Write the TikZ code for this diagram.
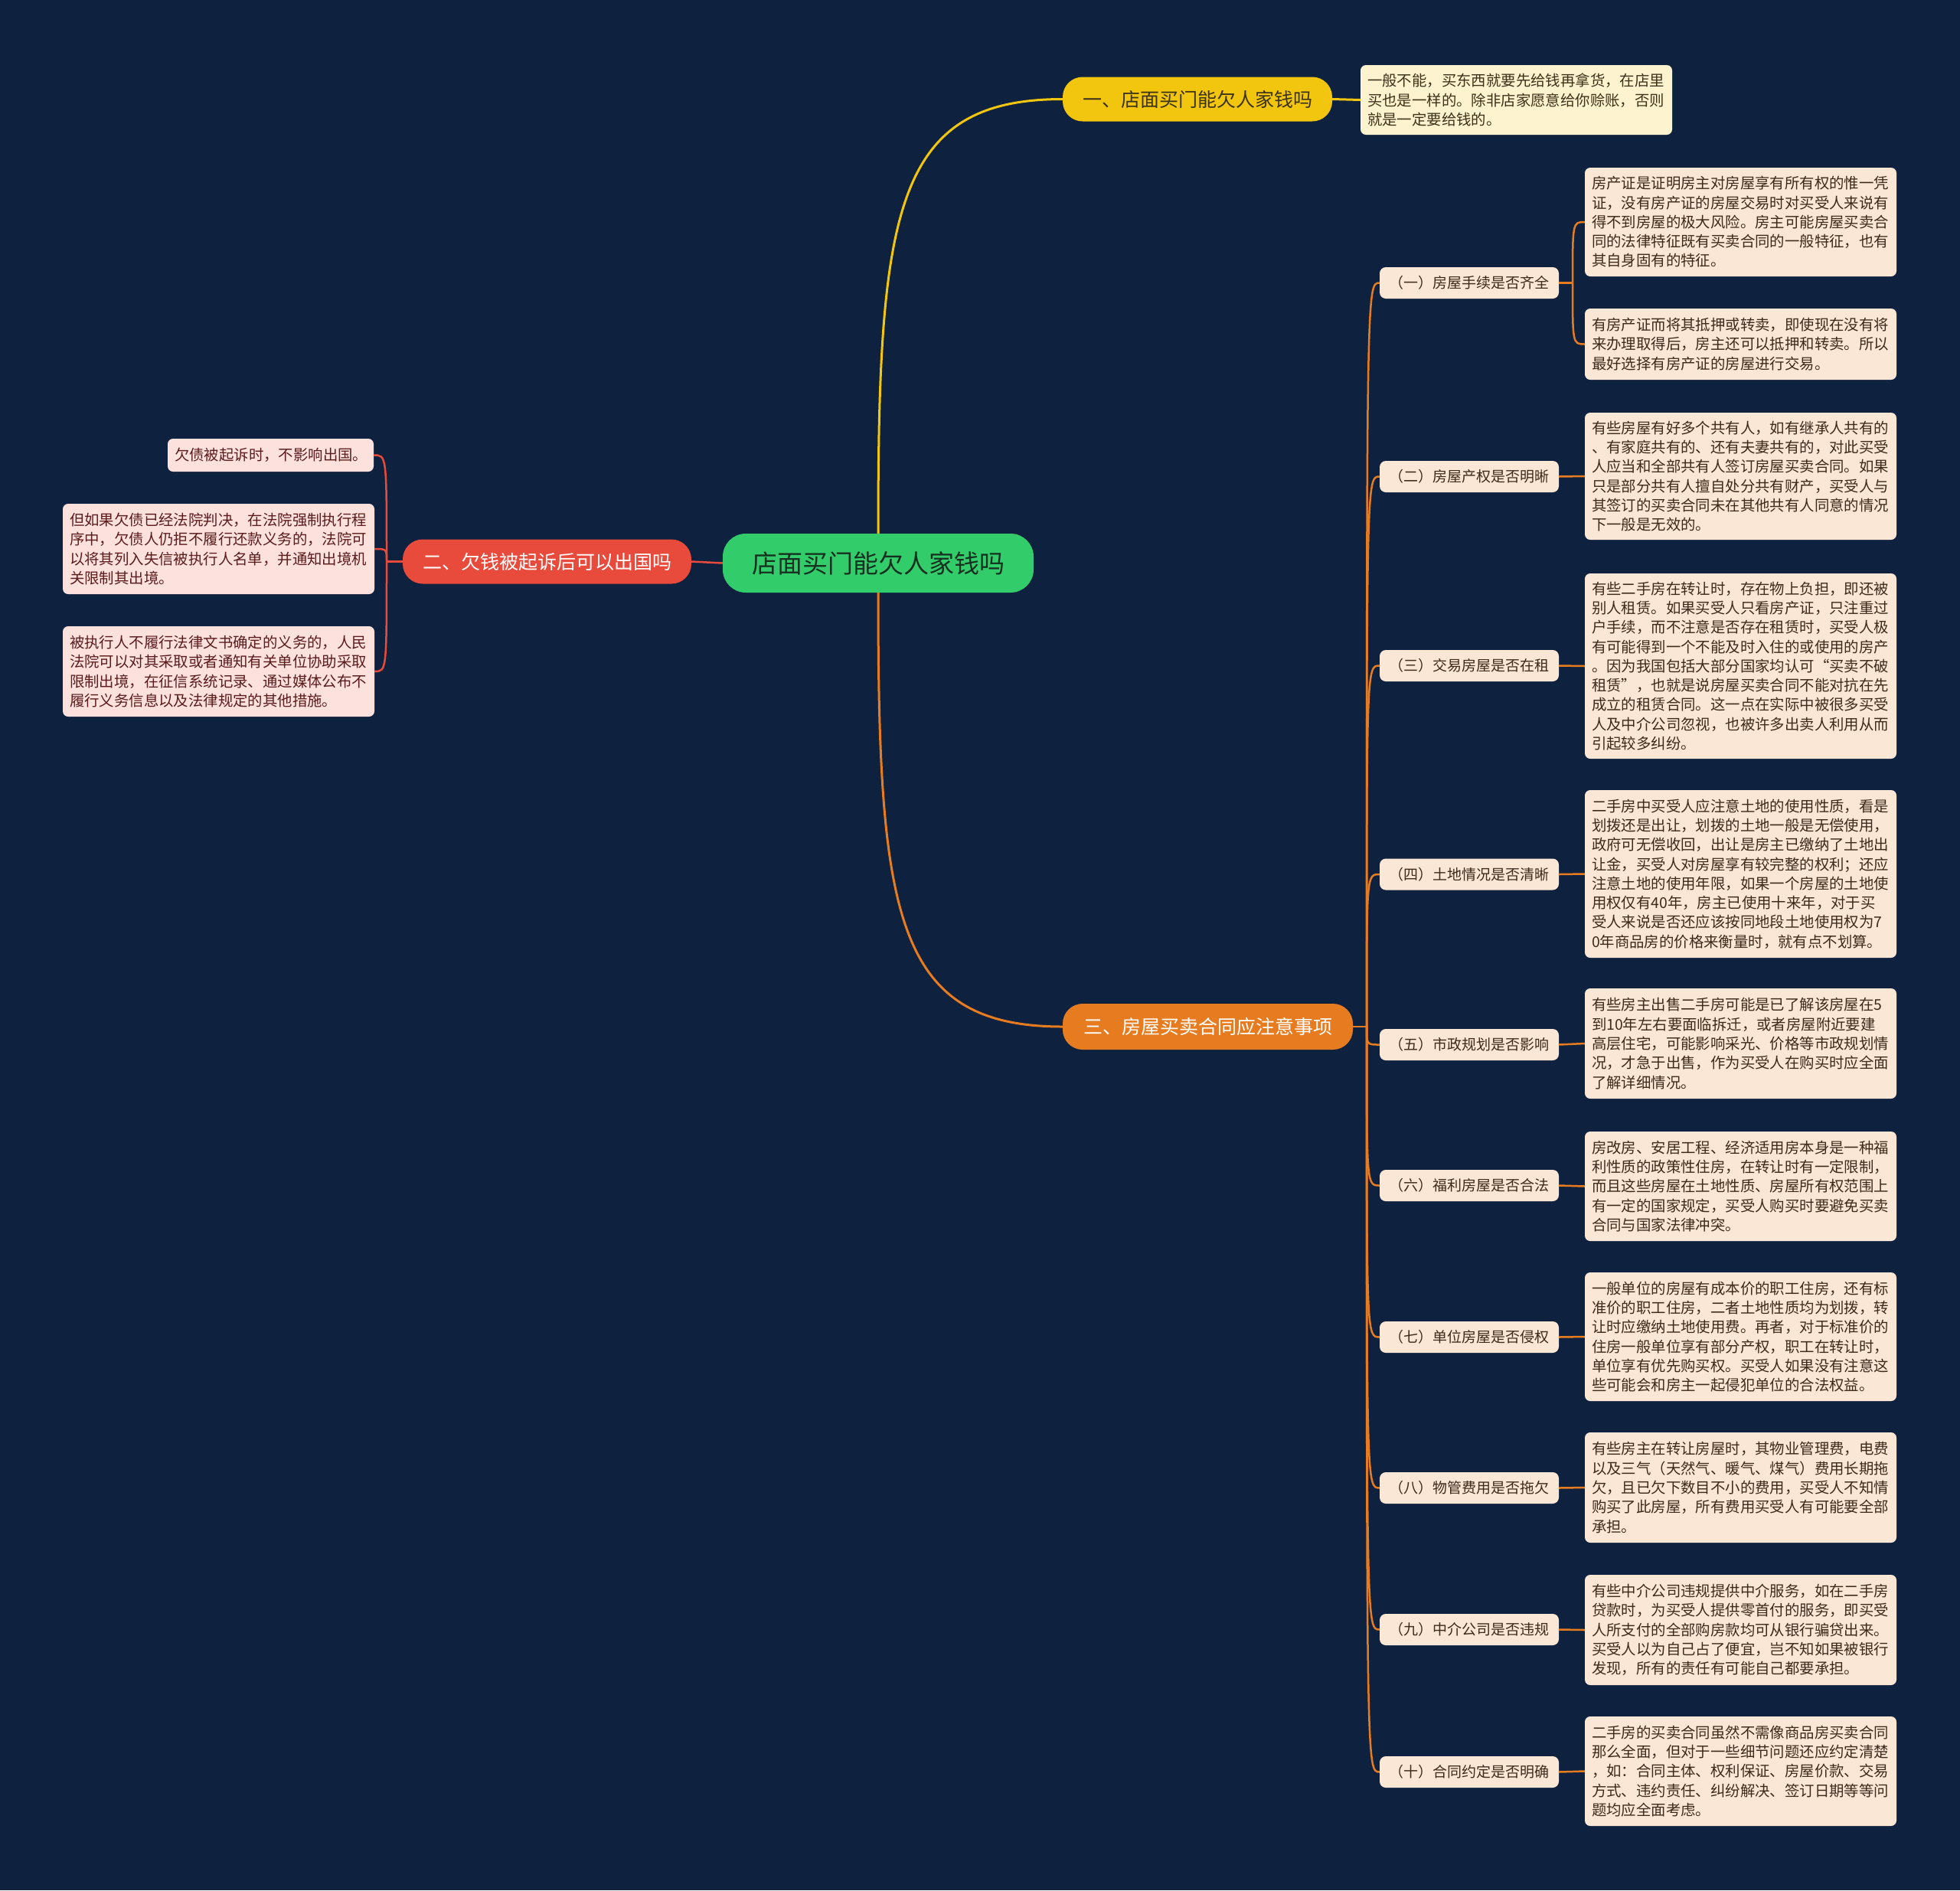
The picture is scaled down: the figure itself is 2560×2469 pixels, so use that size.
\documentclass[tikz,border=0pt]{standalone}
\usepackage{fontspec}
\setmainfont{Noto Sans CJK SC}
\definecolor{bg}{HTML}{0E213E}
\definecolor{cgreen}{HTML}{33CC6B}
\definecolor{cyellow}{HTML}{F2C60F}
\definecolor{cred}{HTML}{E84A3B}
\definecolor{corange}{HTML}{E67C1F}
\definecolor{lyellow}{HTML}{FDF3CF}
\definecolor{lred}{HTML}{FCE1DD}
\definecolor{lorange}{HTML}{FBE7D6}
\definecolor{tyellow}{HTML}{3B3218}
\definecolor{tred}{HTML}{5A1C1C}
\definecolor{torange}{HTML}{3E2A1A}
\definecolor{tcenter}{HTML}{15301F}
\tikzset{
  centernode/.style={fill=cgreen, rounded corners=30pt, minimum width=406pt, minimum height=77pt, inner sep=0pt, text=tcenter, font=\fontsize{33pt}{40pt}\selectfont},
  mainnode/.style={rounded corners=26pt, inner sep=0pt, minimum height=58pt, font=\fontsize{25pt}{30pt}\selectfont},
  subnode/.style={fill=lorange, rounded corners=8pt, minimum width=234pt, minimum height=41pt, inner sep=0pt, text=torange, font=\fontsize{19pt}{23pt}\selectfont},
  leafbox/.style={rounded corners=7pt, text width=389pt, inner xsep=9pt, inner ysep=0pt, align=left, font=\fontsize{19.4pt}{25.3pt}\selectfont},
  oleaf/.style={leafbox, fill=lorange, text=torange},
  rleaf/.style={leafbox, fill=lred, text=tred},
  yleaf/.style={leafbox, fill=lyellow, text=tyellow},
  yline/.style={draw=cyellow, line width=3pt},
  rline/.style={draw=cred, line width=2.5pt},
  oline/.style={draw=corange, line width=3pt},
  osub/.style={draw=corange, line width=2.5pt},
}
\begin{document}
\begin{tikzpicture}[x=1pt, y=-1pt]
\fill[bg] (0,0) rectangle (2560,2469);
\useasboundingbox (0,0) rectangle (2560,2469);

% central and main nodes
\node[centernode] (c) at (1147,735.5) {店面买门能欠人家钱吗};
\node[mainnode, fill=cyellow, minimum width=352pt, text=tyellow] (y) at (1564,129.5) {一、店面买门能欠人家钱吗};
\node[mainnode, fill=cred, minimum width=377pt, text=white] (r) at (714.5,733.5) {二、欠钱被起诉后可以出国吗};
\node[mainnode, fill=corange, minimum width=379pt, minimum height=60pt, text=white] (o) at (1577.5,1341) {三、房屋买卖合同应注意事项};

% yellow leaf
\node[yleaf, minimum height=91pt] (yl) at (1980.5,130.5) {一般不能，买东西就要先给钱再拿货，在店里\\买也是一样的。除非店家愿意给你赊账，否则\\就是一定要给钱的。};

% red leaves
\node[rleaf, text width=251pt, minimum height=43pt] (rl1) at (353.5,594.5) {欠债被起诉时，不影响出国。};
\node[rleaf, minimum height=118pt] (rl2) at (285.5,717) {但如果欠债已经法院判决，在法院强制执行程\\序中，欠债人仍拒不履行还款义务的，法院可\\以将其列入失信被执行人名单，并通知出境机\\关限制其出境。};
\node[rleaf, minimum height=118pt] (rl3) at (285.5,877) {被执行人不履行法律文书确定的义务的，人民\\法院可以对其采取或者通知有关单位协助采取\\限制出境，在征信系统记录、通过媒体公布不\\履行义务信息以及法律规定的其他措施。};

% sub nodes
\node[subnode] (s1) at (1919,369.5) {（一）房屋手续是否齐全};
\node[subnode] (s2) at (1919,622.5) {（二）房屋产权是否明晰};
\node[subnode] (s3) at (1919,869.5) {（三）交易房屋是否在租};
\node[subnode] (s4) at (1919,1142) {（四）土地情况是否清晰};
\node[subnode] (s5) at (1919,1364.5) {（五）市政规划是否影响};
\node[subnode] (s6) at (1919,1548.5) {（六）福利房屋是否合法};
\node[subnode] (s7) at (1919,1746.5) {（七）单位房屋是否侵权};
\node[subnode] (s8) at (1919,1943.5) {（八）物管费用是否拖欠};
\node[subnode] (s9) at (1919,2128.5) {（九）中介公司是否违规};
\node[subnode] (s10) at (1919,2314.5) {（十）合同约定是否明确};

% orange leaves
\node[oleaf, minimum height=142pt] (l1a) at (2273.5,290) {房产证是证明房主对房屋享有所有权的惟一凭\\证，没有房产证的房屋交易时对买受人来说有\\得不到房屋的极大风险。房主可能房屋买卖合\\同的法律特征既有买卖合同的一般特征，也有\\其自身固有的特征。};
\node[oleaf, minimum height=93pt] (l1b) at (2273.5,449.5) {有房产证而将其抵押或转卖，即使现在没有将\\来办理取得后，房主还可以抵押和转卖。所以\\最好选择有房产证的房屋进行交易。};
\node[oleaf, minimum height=166pt] (l2) at (2273.5,622) {有些房屋有好多个共有人，如有继承人共有的\\、有家庭共有的、还有夫妻共有的，对此买受\\人应当和全部共有人签订房屋买卖合同。如果\\只是部分共有人擅自处分共有财产，买受人与\\其签订的买卖合同未在其他共有人同意的情况\\下一般是无效的。};
\node[oleaf, minimum height=242pt] (l3) at (2273.5,870) {有些二手房在转让时，存在物上负担，即还被\\别人租赁。如果买受人只看房产证，只注重过\\户手续，而不注意是否存在租赁时，买受人极\\有可能得到一个不能及时入住的或使用的房产\\。因为我国包括大部分国家均认可“买卖不破\\租赁”，也就是说房屋买卖合同不能对抗在先\\成立的租赁合同。这一点在实际中被很多买受\\人及中介公司忽视，也被许多出卖人利用从而\\引起较多纠纷。};
\node[oleaf, minimum height=219pt] (l4) at (2273.5,1141.5) {二手房中买受人应注意土地的使用性质，看是\\划拨还是出让，划拨的土地一般是无偿使用，\\政府可无偿收回，出让是房主已缴纳了土地出\\让金，买受人对房屋享有较完整的权利；还应\\注意土地的使用年限，如果一个房屋的土地使\\用权仅有40年，房主已使用十来年，对于买\\受人来说是否还应该按同地段土地使用权为7\\0年商品房的价格来衡量时，就有点不划算。};
\node[oleaf, minimum height=144pt] (l5) at (2273.5,1363) {有些房主出售二手房可能是已了解该房屋在5\\到10年左右要面临拆迁，或者房屋附近要建\\高层住宅，可能影响采光、价格等市政规划情\\况，才急于出售，作为买受人在购买时应全面\\了解详细情况。};
\node[oleaf, minimum height=143pt] (l6) at (2273.5,1549.5) {房改房、安居工程、经济适用房本身是一种福\\利性质的政策性住房，在转让时有一定限制，\\而且这些房屋在土地性质、房屋所有权范围上\\有一定的国家规定，买受人购买时要避免买卖\\合同与国家法律冲突。};
\node[oleaf, minimum height=168pt] (l7) at (2273.5,1746) {一般单位的房屋有成本价的职工住房，还有标\\准价的职工住房，二者土地性质均为划拨，转\\让时应缴纳土地使用费。再者，对于标准价的\\住房一般单位享有部分产权，职工在转让时，\\单位享有优先购买权。买受人如果没有注意这\\些可能会和房主一起侵犯单位的合法权益。};
\node[oleaf, minimum height=144pt] (l8) at (2273.5,1943) {有些房主在转让房屋时，其物业管理费，电费\\以及三气（天然气、暖气、煤气）费用长期拖\\欠，且已欠下数目不小的费用，买受人不知情\\购买了此房屋，所有费用买受人有可能要全部\\承担。};
\node[oleaf, minimum height=144pt] (l9) at (2273.5,2129) {有些中介公司违规提供中介服务，如在二手房\\贷款时，为买受人提供零首付的服务，即买受\\人所支付的全部购房款均可从银行骗贷出来。\\买受人以为自己占了便宜，岂不知如果被银行\\发现，所有的责任有可能自己都要承担。};
\node[oleaf, minimum height=143pt] (l10) at (2273.5,2313.5) {二手房的买卖合同虽然不需像商品房买卖合同\\那么全面，但对于一些细节问题还应约定清楚\\，如：合同主体、权利保证、房屋价款、交易\\方式、违约责任、纠纷解决、签订日期等等问\\题均应全面考虑。};

% junction points
\coordinate (oj) at (1785,1341);
\coordinate (rj) at (505,733.5);
\coordinate (sj) at (2054,369.5);

% connectors
\draw[yline] (c.north) .. controls +(0,-420) and +(-220,0) .. (y.west);
\draw[oline] (c.south) .. controls +(0,420) and +(-220,0) .. (o.west);
\draw[rline] (c.west) -- (r.east);
\draw[yline] (y.east) -- (yl.west);

\draw[rline] (r.west) -- (rj);
\foreach \k in {rl1,rl2,rl3}
  \draw[rline] (rj) .. controls (rj |- \k.east) and (rj |- \k.east) .. (\k.east);

\draw[osub] (o.east) -- (oj);
\foreach \k in {s1,s2,s3,s4,s5,s6,s7,s8,s9,s10}
  \draw[osub] (oj) .. controls (oj |- \k.west) and (oj |- \k.west) .. (\k.west);

\draw[osub] (s1.east) -- (sj);
\foreach \k in {l1a,l1b}
  \draw[osub] (sj) .. controls (sj |- \k.west) and (sj |- \k.west) .. (\k.west);
\draw[osub] (s2.east) -- (l2.west);
\draw[osub] (s3.east) -- (l3.west);
\draw[osub] (s4.east) -- (l4.west);
\draw[osub] (s5.east) -- (l5.west);
\draw[osub] (s6.east) -- (l6.west);
\draw[osub] (s7.east) -- (l7.west);
\draw[osub] (s8.east) -- (l8.west);
\draw[osub] (s9.east) -- (l9.west);
\draw[osub] (s10.east) -- (l10.west);
\end{tikzpicture}
\end{document}
